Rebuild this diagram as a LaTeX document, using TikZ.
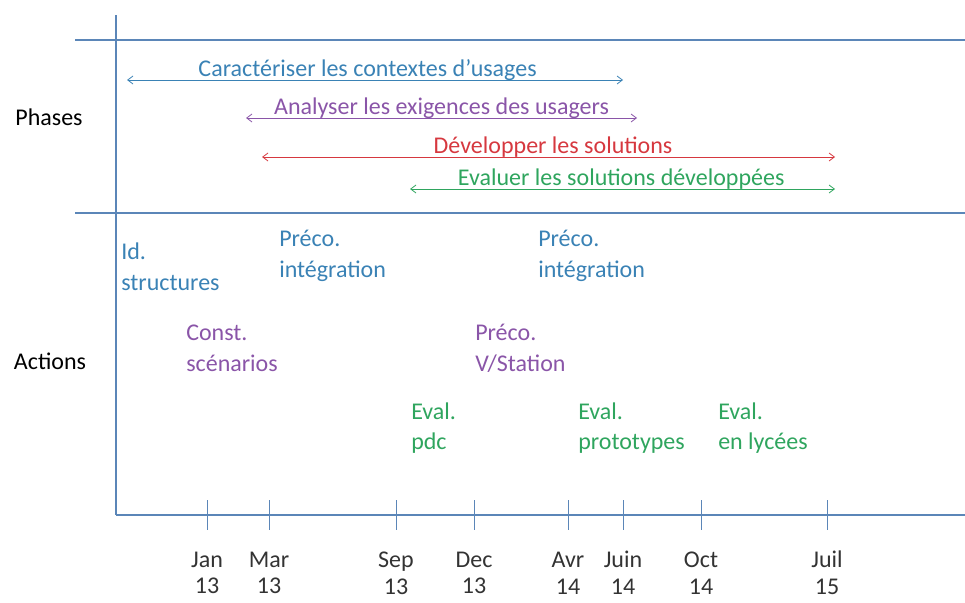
\documentclass[tikz,border=0pt]{standalone}
\usepackage{fontspec}
\setmainfont{Carlito}
\usetikzlibrary{arrows.meta}
\definecolor{axisblue}{HTML}{5B86B8}
\definecolor{phblue}{HTML}{3A82B5}
\definecolor{phpurple}{HTML}{8A55A8}
\definecolor{phred}{HTML}{D6383F}
\definecolor{phgreen}{HTML}{2FA55E}
\definecolor{datetext}{HTML}{333333}
\tikzset{
  axisline/.style = {draw = axisblue, line width = 0.8pt},
  phasearrow/.style = {line width = 0.6pt, {Straight Barb[length = 4pt, width = 6pt]}-{Straight Barb[length = 4pt, width = 6pt]}},
  phaselabel/.style = {anchor = base, inner sep = 0pt, font = \fontsize{18}{22}\selectfont},
  actionlabel/.style = {anchor = west, align = left, inner sep = 0pt, font = \fontsize{18}{23}\selectfont},
  datelabel/.style = {align = center, inner sep = 0pt, text = datetext, font = \fontsize{18}{20}\selectfont}
}
\begin{document}
\begin{tikzpicture}[x = 0.75pt, y = -0.75pt]
  \useasboundingbox (0, 0) rectangle (965, 603);
  % draw frame lines
  \draw[axisline] (116, 15) coordinate (top) -- (116, 515) coordinate (O);
  \draw[axisline] (O) -- (965, 515) coordinate (end);
  \draw[axisline] (75, 40) coordinate (l1) -- (965, 40) coordinate (r1);
  \draw[axisline] (75, 213) coordinate (l2) -- (965, 213) coordinate (r2);
  % row titles
  \node[font = \fontsize{18}{22}\selectfont] (phases) at (49, 117) {Phases};
  \node[font = \fontsize{18}{22}\selectfont] (actions) at (50, 361) {Actions};
  % draw ticks and dates
  \foreach \x/\m/\yr/\n in {207/Jan/13/jan, 269/Mar/13/mar, 396/Sep/13/sep,
    474/Dec/13/dec, 568/Avr/14/avr, 623/Juin/14/juin, 701/Oct/14/oct,
    827/Juil/15/juil}
  {
    \draw[axisline, line width = 0.6pt] (\x, 500) coordinate (\n-a) -- (\x, 530) coordinate (\n-b);
    \node[datelabel] (\n-date) at (\x, 573) {\m\\\yr};
  }
  % draw phase arrows
  \coordinate (car-a) at (127, 80);
  \coordinate (car-b) at (623, 80);
  \draw[phasearrow, phblue] (car-a) -- (car-b) node[phaselabel, pos = 0.485, yshift = 3pt]
  (car) {Caractériser les contextes d’usages};
  \coordinate (ana-a) at (246, 118);
  \coordinate (ana-b) at (637, 118);
  \draw[phasearrow, phpurple] (ana-a) -- (ana-b) node[phaselabel, pos = 0.5, yshift = 3pt]
  (ana) {Analyser les exigences des usagers};
  \coordinate (dev-a) at (262, 157);
  \coordinate (dev-b) at (835, 157);
  \draw[phasearrow, phred] (dev-a) -- (dev-b) node[phaselabel, pos = 0.508, yshift = 3pt]
  (dev) {Développer les solutions};
  \coordinate (eva-a) at (410, 189);
  \coordinate (eva-b) at (835, 189);
  \draw[phasearrow, phgreen] (eva-a) -- (eva-b) node[phaselabel, pos = 0.497, yshift = 3pt]
  (eva) {Evaluer les solutions développées};
  % action labels
  \node[actionlabel, phblue] (idstruct) at (121, 267) {Id.\\structures};
  \node[actionlabel, phblue] (preco1) at (279, 256) {Préco.\\intégration};
  \node[actionlabel, phblue] (preco2) at (538, 256) {Préco.\\intégration};
  \node[actionlabel, phpurple] (scen) at (186, 348) {Const.\\scénarios};
  \node[actionlabel, phpurple] (station) at (475, 348) {Préco.\\V/Station};
  \node[actionlabel, phgreen] (pdc) at (411, 428) {Eval.\\pdc};
  \node[actionlabel, phgreen] (proto) at (578, 428) {Eval.\\prototypes};
  \node[actionlabel, phgreen] (lycees) at (718, 428) {Eval.\\en lycées};
\end{tikzpicture}
\end{document}
